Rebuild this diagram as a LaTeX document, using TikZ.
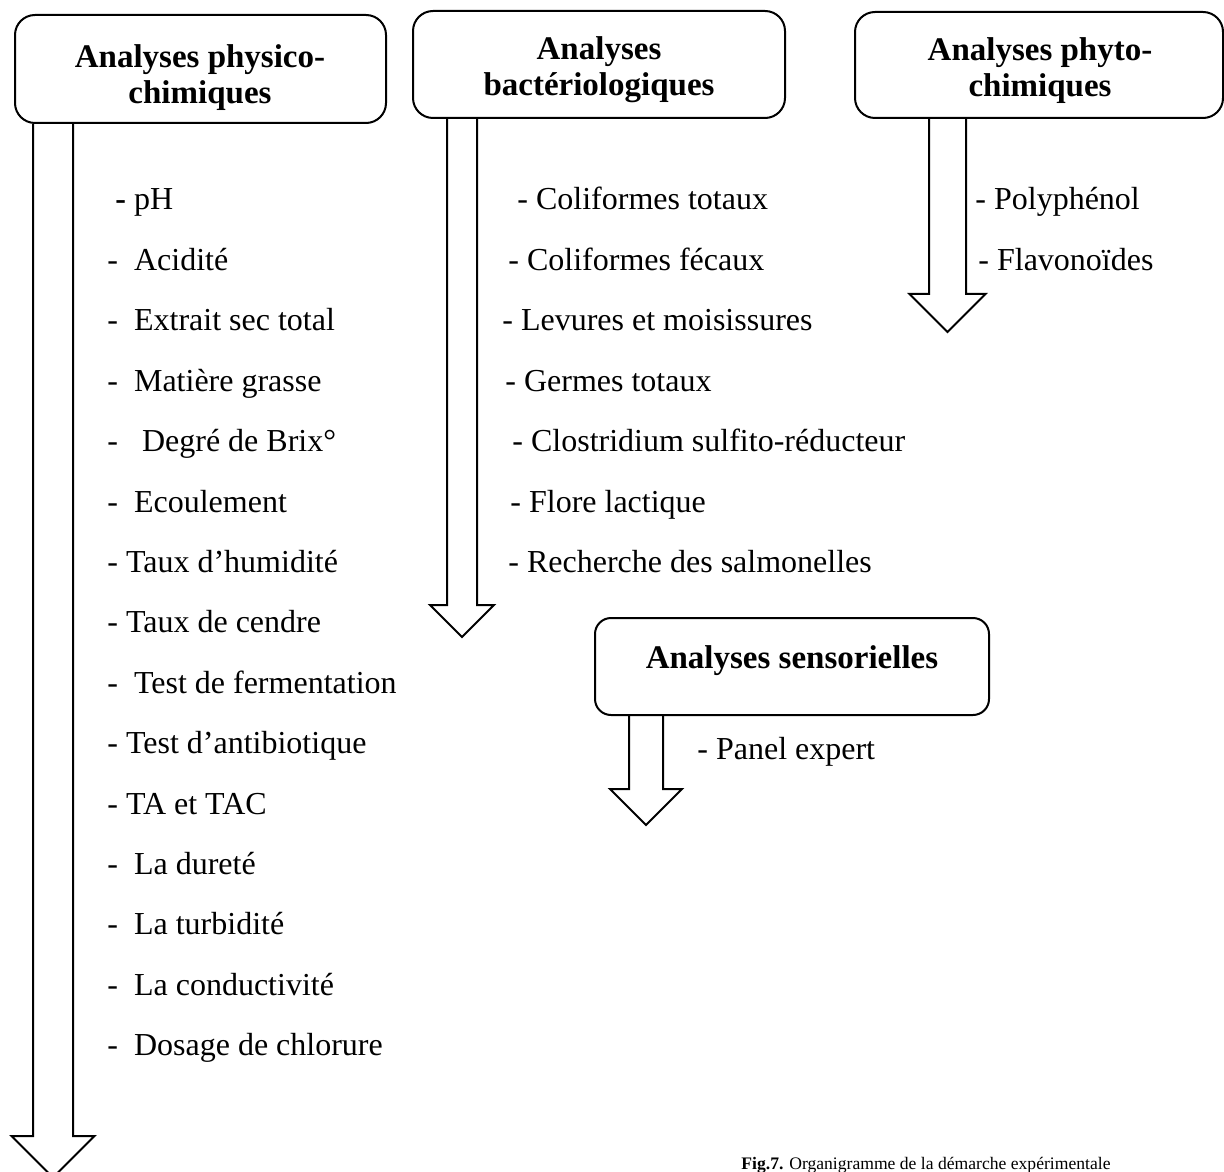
\documentclass[tikz,border=0pt]{standalone}
\usepackage{fontspec}
\setmainfont{Liberation Serif}
\usetikzlibrary{positioning}

\tikzset{
  titlebox/.style={draw, line width=1pt, rounded corners=10pt, inner sep=0pt},
  titletext/.style={font=\fontsize{16.5}{18}\selectfont\bfseries, align=center, inner sep=0pt},
  item/.style={font=\fontsize{16}{19}\selectfont, anchor=base west, inner sep=0pt},
  blockarrow/.style={line width=1pt, line join=miter},
}

% root, shaft length, half shaft, half head
\newcommand{\bigarrow}[4]{%
  \draw[blockarrow] (#1) ++(-#3,0) -- ++(0,#2) -- ++(#3-#4,0) -- ++(#4,#4)
    -- ++(#4,-#4) -- ++(#3-#4,0) -- ++(0,-#2);}

\begin{document}
\begin{tikzpicture}[x=0.5pt, y=-0.5pt]
  \useasboundingbox (0,0) rectangle (1224,1171);

  % boxes
  \node[titlebox, minimum width=185.5pt, minimum height=54pt] (physico) at (200.5,69) {};
  \node[titletext] (physico-title) at (200,77.5) {Analyses physico-\\chimiques};
  \node[titlebox, minimum width=186pt, minimum height=53.5pt] (bacterio) at (599,64.5) {};
  \node[titletext] (bacterio-title) at (599,69.5) {Analyses\\bactériologiques};
  \node[titlebox, minimum width=184pt, minimum height=53pt] (phyto) at (1039,65) {};
  \node[titletext] (phyto-title) at (1040,71) {Analyses phyto-\\chimiques};
  \node[titlebox, minimum width=197pt, minimum height=48.5pt, rounded corners=8pt] (sensor) at (792,666.5) {};
  \node[titletext] (sensor-title) at (792,660.5) {Analyses sensorielles};

  % arrows
  \coordinate (physico-out) at (53,0 |- physico.south);
  \coordinate (bacterio-out) at (462,0 |- bacterio.south);
  \coordinate (phyto-out) at (947.5,0 |- phyto.south);
  \coordinate (sensor-out) at (646,0 |- sensor.south);
  \bigarrow{physico-out}{1012}{20}{41.5}
  \bigarrow{bacterio-out}{486}{15}{32}
  \bigarrow{phyto-out}{175}{18.5}{38}
  \bigarrow{sensor-out}{73}{17}{36}

  % physico-chimiques
  \foreach \dx/\txt [count=\k from 0] in {8/{\textbf{-} pH}, 0/{-\ \ Acidité},
      0/{-\ \ Extrait sec total}, 0/{-\ \ Matière grasse}, 0/{-\ \ \ Degré de Brix°},
      0/{-\ \ Ecoulement}, 0/{- Taux d’humidité}, 0/{- Taux de cendre},
      0/{-\ \ Test de fermentation}, 0/{- Test d’antibiotique}, 0/{- TA et TAC},
      0/{-\ \ La dureté}, 0/{-\ \ La turbidité}, 0/{-\ \ La conductivité},
      0/{-\ \ Dosage de chlorure}}
    \node[item] (physico-\k) at (107+\dx,210+60.4*\k) {\txt};

  % bacteriologiques
  \foreach \x/\txt [count=\k from 0] in {517/Coliformes totaux, 508/Coliformes fécaux,
      502/Levures et moisissures, 505/Germes totaux, 512/Clostridium sulfito-réducteur,
      510/Flore lactique, 508/Recherche des salmonelles}
    \node[item] (bacterio-\k) at (\x,210+60.4*\k) {- \txt};

  % phyto-chimiques
  \node[item] (phyto-0) at (975,210) {- Polyphénol};
  \node[item] (phyto-1) at (978,270.5) {- Flavonoïdes};

  % sensorielles
  \node[item] (sensor-0) at (697,759) {- Panel expert};

  \node[item, font=\fontsize{8.8}{10}\selectfont] (caption) at (741,1169)
    {\textbf{Fig.7.} Organigramme de la démarche expérimentale};
\end{tikzpicture}
\end{document}
